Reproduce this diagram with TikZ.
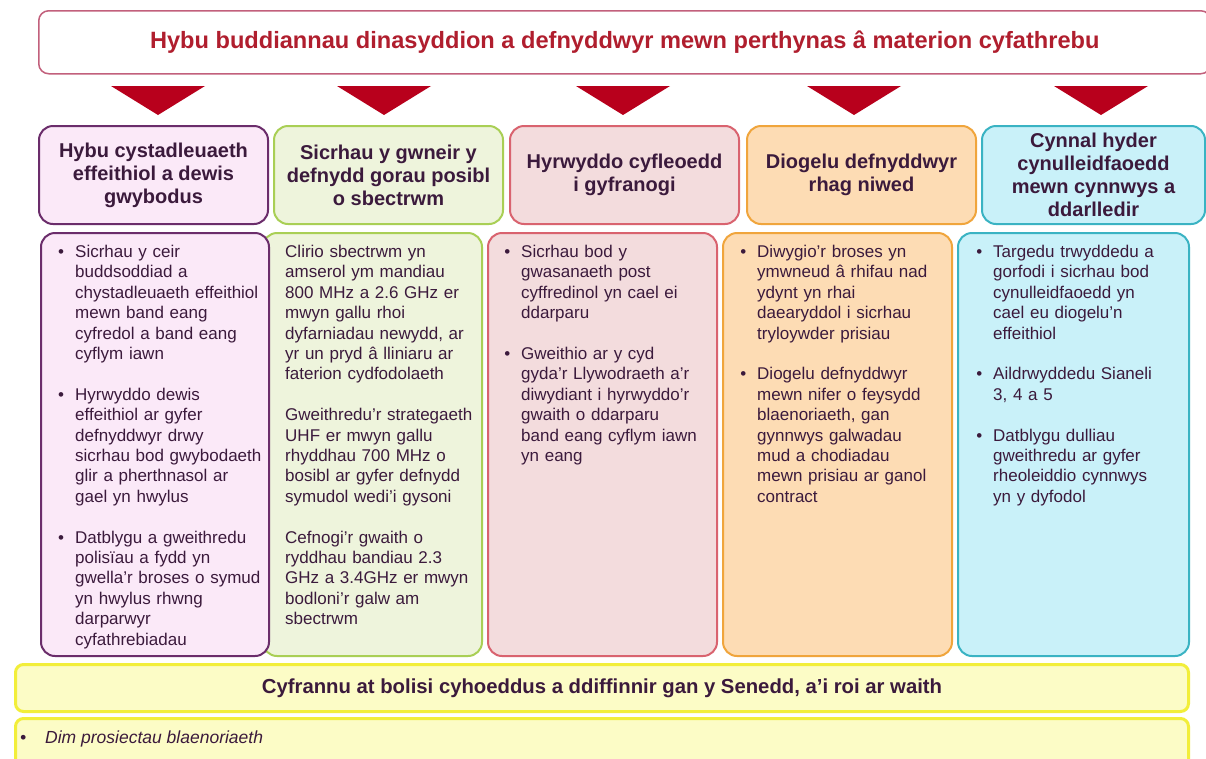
\documentclass[tikz,border=0pt]{standalone}
\usepackage{fontspec}
\setmainfont{Liberation Sans}
\usetikzlibrary{shapes,backgrounds,positioning}

\definecolor{ink}{HTML}{3B1A3C}
\definecolor{titlered}{HTML}{B01E2E}
\definecolor{titleline}{HTML}{C2607C}
\definecolor{arrowred}{HTML}{B8001C}
\definecolor{purpline}{HTML}{6B2D6B}
\definecolor{purpfill}{HTML}{FBE9F8}
\definecolor{greenline}{HTML}{A9CF55}
\definecolor{greenfill}{HTML}{EEF4DC}
\definecolor{redline}{HTML}{D9636F}
\definecolor{redfill}{HTML}{F3DCDD}
\definecolor{orangeline}{HTML}{F0A53C}
\definecolor{orangefill}{HTML}{FDDCB4}
\definecolor{tealline}{HTML}{3AB3C3}
\definecolor{tealfill}{HTML}{C9F1F9}
\definecolor{yelline}{HTML}{F2EE3A}
\definecolor{yelfill}{HTML}{FCFCC6}

\newcommand{\bul}{\leavevmode\llap{\textbullet\hspace{11pt}}}

\begin{document}
\begin{tikzpicture}[x=1pt, y=-1pt,
    card/.style 2 args={draw=#1, fill=#2, line width=2pt, rounded corners=14pt, anchor=north west, inner sep=0pt},
    head/.style={text=ink, font=\bfseries\fontsize{20}{23}\selectfont, align=center, minimum width=229pt, minimum height=98pt},
    body/.style={text=ink, font=\fontsize{17}{20.4}\selectfont, align=left, text width=200pt, anchor=north west, inner sep=0pt},
    tall/.style={minimum width=229pt, minimum height=423pt}]
        \clip (0,0) rectangle (1206,758);
        \fill[white] (0,0) rectangle (1206,758);
        \node[card={titleline}{white}, line width=1.5pt, rounded corners=10pt, minimum width=1172pt, minimum height=63pt,
            text=titlered, font=\bfseries\fontsize{23.6}{28}\selectfont] (top) at (38,10)
            {Hybu buddiannau dinasyddion a defnyddwyr mewn perthynas â materion cyfathrebu};
        \foreach \x in {158,384,623,854,1101}
            \fill[arrowred] (\x-47,86) -- (\x+47,86) -- (\x,115) -- cycle;

        \node[card={purpline}{purpfill}, head] (h1) at (38,125) {Hybu cystadleuaeth\\effeithiol a dewis\\gwybodus};
        \node[card={greenline}{greenfill}, head] (h2) at (273,125) {Sicrhau y gwneir y\\defnydd gorau posibl\\o sbectrwm};
        \node[card={redline}{redfill}, head] (h3) at (509,125) {Hyrwyddo cyfleoedd\\i gyfranogi};
        \node[card={orangeline}{orangefill}, head] (h4) at (746,125) {Diogelu defnyddwyr\\rhag niwed};
        \node[card={tealline}{tealfill}, head, minimum width=223pt] (h5) at (981,125) {Cynnal hyder\\cynulleidfaoedd\\mewn cynnwys a\\ddarlledir};

        \node[card={greenline}{greenfill}, tall, minimum width=219pt] (b2) at (262,232) {};
        \node[card={purpline}{purpfill}, tall, minimum width=228pt] (b1) at (40,232) {};
        \node[card={redline}{redfill}, tall] (b3) at (487,232) {};
        \node[card={orangeline}{orangefill}, tall] (b4) at (722,232) {};
        \node[card={tealline}{tealfill}, tall, minimum width=231pt] (b5) at (957,232) {};

        \node[body] (t1) at (75,245) {\bul Sicrhau y ceir\\buddsoddiad a\\chystadleuaeth effeithiol\\mewn band eang\\cyfredol a band eang\\cyflym iawn\\[20.4pt]
            \bul Hyrwyddo dewis\\effeithiol ar gyfer\\defnyddwyr drwy\\sicrhau bod gwybodaeth\\glir a pherthnasol ar\\gael yn hwylus\\[20.4pt]
            \bul Datblygu a gweithredu\\polisïau a fydd yn\\gwella'r broses o symud\\yn hwylus rhwng\\darparwyr\\cyfathrebiadau};
        \node[body] (t2) at (285,245) {Clirio sbectrwm yn\\amserol ym mandiau\\800 MHz a 2.6 GHz er\\mwyn gallu rhoi\\dyfarniadau newydd, ar\\yr un pryd â lliniaru ar\\faterion cydfodolaeth\\[20.4pt]
            Gweithredu'r strategaeth\\UHF er mwyn gallu\\rhyddhau 700 MHz o\\bosibl ar gyfer defnydd\\symudol wedi'i gysoni\\[20.4pt]
            Cefnogi'r gwaith o\\ryddhau bandiau 2.3\\GHz a 3.4GHz er mwyn\\bodloni'r galw am\\sbectrwm};
        \node[body] (t3) at (521,245) {\bul Sicrhau bod y\\gwasanaeth post\\cyffredinol yn cael ei\\ddarparu\\[20.4pt]
            \bul Gweithio ar y cyd\\gyda'r Llywodraeth a'r\\diwydiant i hyrwyddo'r\\gwaith o ddarparu\\band eang cyflym iawn\\yn eang};
        \node[body] (t4) at (757,245) {\bul Diwygio'r broses yn\\ymwneud â rhifau nad\\ydynt yn rhai\\daearyddol i sicrhau\\tryloywder prisiau\\[20.4pt]
            \bul Diogelu defnyddwyr\\mewn nifer o feysydd\\blaenoriaeth, gan\\gynnwys galwadau\\mud a chodiadau\\mewn prisiau ar ganol\\contract};
        \node[body] (t5) at (993,245) {\bul Targedu trwyddedu a\\gorfodi i sicrhau bod\\cynulleidfaoedd yn\\cael eu diogelu'n\\effeithiol\\[20.4pt]
            \bul Aildrwyddedu Sianeli\\3, 4 a 5\\[20.4pt]
            \bul Datblygu dulliau\\gweithredu ar gyfer\\rheoleiddio cynnwys\\yn y dyfodol};

        \node[card={yelline}{yelfill}, line width=3pt, rounded corners=8pt, minimum width=1173pt, minimum height=47pt,
            text=ink, font=\bfseries\fontsize{20.3}{24}\selectfont] (aim) at (14,663)
            {Cyfrannu at bolisi cyhoeddus a ddiffinnir gan y Senedd, a'i roi ar waith};
        \node[card={yelline}{yelfill}, line width=3pt, rounded corners=8pt, minimum width=1173pt, minimum height=70pt] (note) at (14,717) {};
        \node[anchor=base west, inner sep=0pt, text=ink, font=\itshape\fontsize{17.5}{20}\selectfont] (dim) at (45,743)
            {\llap{\textbullet\hspace{19pt}}Dim prosiectau blaenoriaeth};
    \end{tikzpicture}
\end{document}
